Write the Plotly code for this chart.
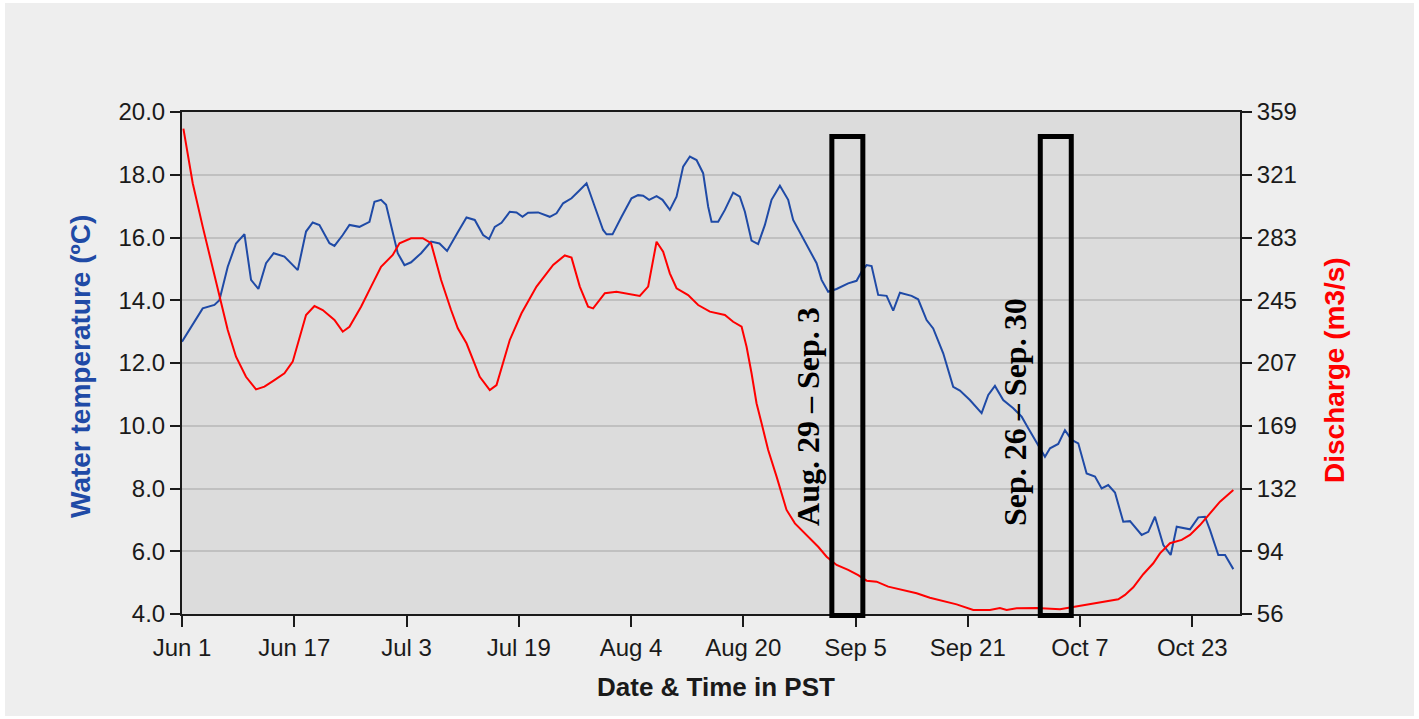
import pandas as pd
import plotly.graph_objects as go

# Season start; all series positions are given as days elapsed since this date
season_start = pd.Timestamp("2013-06-01")

# Water temperature (degrees C)
temp_day = [0.0, 2.95, 4.62, 5.33, 6.52, 7.70, 8.90, 9.84, 10.89, 11.98, 13.07, 14.60,
            16.50, 17.68, 18.63, 19.59, 21.02, 21.73, 22.91, 23.87, 25.29, 26.72, 27.43,
            28.37, 29.09, 30.04, 30.75, 31.71, 32.65, 34.08, 35.50, 36.70, 37.78, 39.31,
            40.55, 41.73, 42.92, 43.77, 44.58, 45.54, 46.72, 47.68, 48.53, 49.33, 50.76,
            52.42, 53.38, 54.32, 55.52, 56.46, 57.66, 58.84, 60.02, 60.51, 61.36, 62.65,
            64.07, 65.01, 65.73, 66.58, 67.64, 68.49, 69.53, 70.49, 71.43, 72.39, 73.34,
            74.28, 75.00, 75.48, 76.42, 77.38, 78.56, 79.51, 80.23, 81.18, 82.12, 83.08,
            84.03, 85.22, 86.40, 87.11, 88.31, 89.49, 90.45, 91.16, 92.10, 93.30, 94.95,
            96.15, 96.86, 97.58, 98.29, 99.23, 100.43, 101.37, 102.33, 103.99, 104.93,
            106.13, 107.07, 108.50, 109.92, 110.88, 112.30, 113.97, 114.92, 115.87,
            117.05, 118.48, 119.68, 120.62, 121.82, 123.00, 123.72, 124.89, 125.85,
            126.81, 127.75, 128.94, 130.13, 131.08, 132.02, 132.98, 134.16, 135.12,
            136.78, 137.73, 138.68, 139.87, 140.92, 141.78, 143.67, 144.86, 145.81,
            146.52, 147.71, 148.67, 149.85]
temp_c = [12.68, 13.74, 13.85, 14.00, 15.07, 15.81, 16.11, 14.65, 14.36, 15.18, 15.50, 15.39,
          14.96, 16.19, 16.48, 16.40, 15.82, 15.73, 16.08, 16.40, 16.34, 16.50, 17.14,
          17.20, 17.04, 16.13, 15.50, 15.12, 15.21, 15.50, 15.87, 15.81, 15.57, 16.17,
          16.64, 16.56, 16.08, 15.95, 16.34, 16.47, 16.82, 16.80, 16.66, 16.79, 16.80,
          16.66, 16.77, 17.09, 17.25, 17.46, 17.73, 16.98, 16.24, 16.10, 16.10, 16.66,
          17.25, 17.35, 17.33, 17.20, 17.32, 17.20, 16.88, 17.30, 18.26, 18.58, 18.47,
          18.05, 16.98, 16.50, 16.50, 16.88, 17.43, 17.30, 16.82, 15.90, 15.79, 16.40,
          17.20, 17.65, 17.20, 16.56, 16.08, 15.60, 15.18, 14.65, 14.27, 14.36, 14.54,
          14.62, 14.91, 15.12, 15.09, 14.17, 14.14, 13.67, 14.24, 14.14, 14.03,
          13.37, 13.10, 12.31, 11.24, 11.12, 10.82, 10.40, 10.98, 11.27,
          10.82, 10.56, 10.29, 9.92, 9.44, 9.01, 9.28, 9.42, 9.86,
          9.55, 9.44, 8.48, 8.38, 8.00, 8.11, 7.87, 6.94, 6.96,
          6.52, 6.62, 7.10, 6.20, 5.88, 6.78, 6.70, 7.08, 7.10,
          6.68, 5.88, 5.88, 5.43]

# Discharge (m3/s)
flow_day = [0.2, 1.53, 2.95, 4.13, 5.33, 6.52, 7.70, 9.12, 10.55, 11.75, 13.17, 14.60,
            15.78, 16.74, 17.68, 18.88, 20.06, 21.73, 22.91, 23.87, 25.52, 26.95, 28.37,
            30.04, 31.00, 32.65, 34.32, 35.50, 36.93, 38.35, 39.31, 40.55, 42.44, 43.87,
            44.83, 46.72, 48.39, 50.53, 52.90, 54.56, 55.52, 56.70, 57.88, 58.60, 60.27,
            61.93, 63.36, 65.25, 66.44, 67.64, 68.58, 69.53, 70.49, 72.14, 73.57, 75.24,
            77.38, 78.56, 79.76, 80.47, 81.18, 81.89, 82.61, 83.55, 84.75, 86.17, 87.36,
            89.02, 90.68, 91.88, 93.30, 94.95, 96.38, 97.58, 99.00, 100.66, 102.80,
            104.71, 106.60, 108.50, 110.41, 112.78, 115.16, 116.58, 117.54, 118.96,
            121.82, 125.14, 126.81, 128.46, 130.37, 131.80, 133.45, 134.41, 135.59,
            137.01, 138.44, 139.39, 140.82, 142.49, 143.67, 145.10, 146.52, 147.95,
            149.85]
flow_m3s = [349.0, 316.0, 289.8, 269.7, 247.5, 227.4, 211.3, 199.2, 191.6, 193.2, 197.2, 201.3,
            208.3, 223.4, 236.5, 241.9, 239.5, 233.5, 226.4, 229.4, 241.5, 253.6, 265.6,
            272.7, 279.8, 282.8, 282.8, 279.8, 257.6, 239.5, 228.4, 219.4, 199.2, 191.2,
            194.2, 221.4, 237.5, 253.6, 266.7, 272.4, 271.1, 253.6, 241.5, 240.5, 249.6,
            250.5, 249.6, 248.0, 253.6, 280.7, 274.7, 261.6, 252.6, 248.5, 242.5, 238.5,
            236.5, 232.4, 229.4, 217.3, 201.3, 183.2, 171.1, 155.0, 138.9, 118.8, 110.7,
            103.7, 96.6, 90.6, 85.6, 82.6, 79.5, 76.1, 75.5, 72.5, 70.5,
            68.5, 65.8, 63.8, 61.8, 58.4, 58.4, 59.6, 58.4, 59.4,
            59.6, 58.8, 60.0, 61.4, 62.5, 63.8, 64.9, 67.5, 72.1,
            80.0, 86.6, 92.6, 98.7, 100.7, 103.7, 109.7, 116.8, 123.8,
            130.8]

# Axis ticks
temp_ticks = [4.0, 6.0, 8.0, 10.0, 12.0, 14.0, 16.0, 18.0, 20.0]
flow_tick_labels = ["56", "94", "132", "169", "207", "245", "283", "321", "359"]
flow_range = [56, 359]
x_end_days = 150.8

# Highlighted sampling windows: (box start, box end, label, label anchor)
windows = [
    ("2013-09-01 15:00", "2013-09-06 01:00", "Aug. 29 \u2013 Sep. 3", "2013-08-29 06:00", 0.393),
    ("2013-10-01 08:00", "2013-10-05 18:00", "Sep. 26 \u2013 Sep. 30", "2013-09-27 15:00", 0.403),
]

temp_time = season_start + pd.to_timedelta(temp_day, unit="D")
flow_time = season_start + pd.to_timedelta(flow_day, unit="D")

BLUE = "#1f4aa6"
RED = "#ff0000"
INK = "#1a1a1a"
SANS = "Liberation Sans, Arial, sans-serif"

fig = go.Figure()
fig.add_trace(go.Scatter(x=temp_time, y=temp_c, mode="lines", name="Water temperature",
                         line=dict(color=BLUE, width=2), yaxis="y"))
fig.add_trace(go.Scatter(x=flow_time, y=flow_m3s, mode="lines", name="Discharge",
                         line=dict(color=RED, width=2), yaxis="y2"))

n = len(flow_tick_labels)
flow_tickvals = [flow_range[0] + i * (flow_range[1] - flow_range[0]) / (n - 1) for i in range(n)]

W, H = 1419, 719
L, R, T, B = 182, 179, 112, 105
pw, ph = W - L - R, H - T - B


def px_x(px):
    return (px - L) / pw


def px_y(py):
    return (H - B - py) / ph


shapes = []
annotations = []
for x0, x1, label, lx, ly in windows:
    shapes.append(dict(type="rect", xref="x", yref="paper", x0=x0, x1=x1,
                       y0=-0.003, y1=0.951, line=dict(color="black", width=5),
                       fillcolor="rgba(0,0,0,0)", layer="above"))
    annotations.append(dict(xref="x", yref="paper", x=lx, y=ly, text=label, showarrow=False,
                            textangle=-90, xanchor="center", yanchor="middle",
                            font=dict(family="Liberation Serif, Times New Roman, serif",
                                      size=32, color="black", weight="bold")))

# thin white frame around the figure
for x0, x1, y0, y1 in [(0, 5, 0, H), (W - 5, W, 0, H), (0, W, 0, 3), (0, W, H - 3, H)]:
    shapes.append(dict(type="rect", xref="paper", yref="paper",
                       x0=px_x(x0), x1=px_x(x1), y0=px_y(y1), y1=px_y(y0),
                       fillcolor="white", line=dict(width=0), layer="below"))

annotations += [
    dict(xref="paper", yref="paper", x=px_x(80), y=px_y(367), text="Water temperature (\u00baC)",
         showarrow=False, textangle=-90, xanchor="center", yanchor="middle",
         font=dict(family=SANS, size=28, color=BLUE, weight="bold")),
    dict(xref="paper", yref="paper", x=px_x(1334), y=px_y(370), text="Discharge (m3/s)",
         showarrow=False, textangle=-90, xanchor="center", yanchor="middle",
         font=dict(family=SANS, size=28, color=RED, weight="bold")),
    dict(xref="paper", yref="paper", x=px_x(716), y=px_y(687), text="Date &amp; Time in PST",
         showarrow=False, xanchor="center", yanchor="middle",
         font=dict(family=SANS, size=26, color=INK, weight="bold")),
]

fig.update_layout(
    width=W, height=H,
    margin=dict(l=L, r=R, t=T, b=B, pad=0),
    paper_bgcolor="#eeeeee",
    plot_bgcolor="#dcdcdc",
    showlegend=False,
    font=dict(family=SANS, size=24, color=INK),
    xaxis=dict(
        type="date",
        range=[season_start, season_start + pd.Timedelta(days=x_end_days)],
        tick0=season_start, dtick=16 * 86400000, tickformat="%b %-d",
        showgrid=False, zeroline=False,
        showline=True, linecolor=INK, linewidth=2, mirror=True,
        ticks="outside", ticklen=11, tickwidth=2, tickcolor=INK,
        tickfont=dict(size=24, color=INK),
    ),
    yaxis=dict(
        range=[4, 20], tickvals=temp_ticks, tickformat=".1f",
        showgrid=True, gridcolor="#c0c0c0", gridwidth=2, zeroline=False,
        showline=True, linecolor=INK, linewidth=2,
        ticks="outside", ticklen=10, tickwidth=2, tickcolor=INK,
        tickfont=dict(size=24, color=INK),
    ),
    yaxis2=dict(
        range=flow_range, tickvals=flow_tickvals, ticktext=flow_tick_labels,
        overlaying="y", side="right", showgrid=False, zeroline=False,
        showline=True, linecolor=INK, linewidth=2,
        ticks="outside", ticklen=10, tickwidth=2, tickcolor=INK,
        tickfont=dict(size=24, color=INK),
    ),
    shapes=shapes,
    annotations=annotations,
)

fig.write_html("out.html")
